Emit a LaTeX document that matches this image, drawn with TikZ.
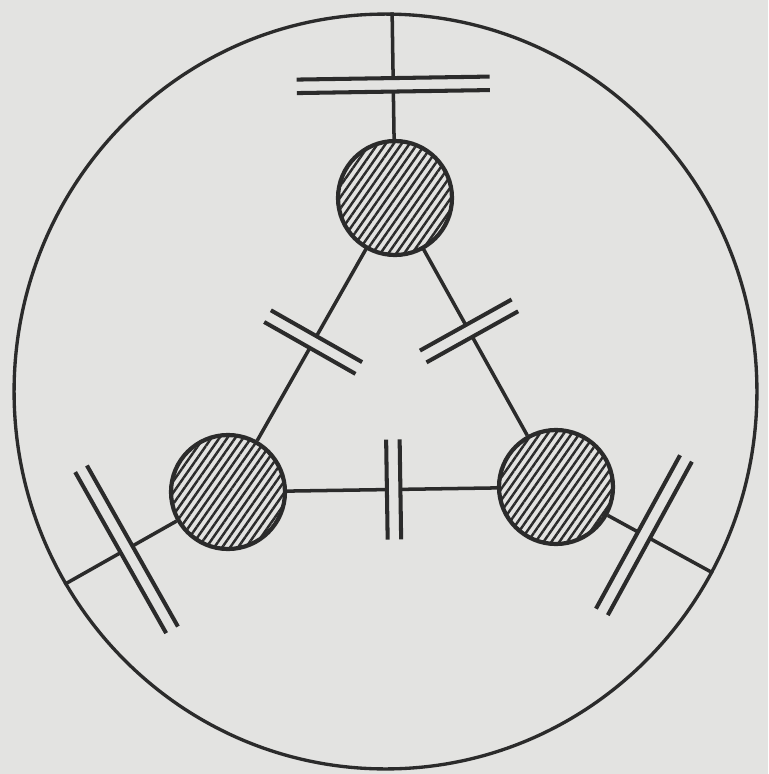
\documentclass[tikz,border=0pt]{standalone}
\usetikzlibrary{calc,shapes.geometric,patterns.meta}
\definecolor{bgcol}{HTML}{E3E3E1}
\definecolor{ink}{HTML}{2B2B2B}
\tikzset{
  wire/.style={draw=ink, line width=2.0pt},
  plate/.style={draw=ink, line width=2.3pt},
  ball/.style={circle, draw=ink, line width=2.4pt, minimum size=2.28cm, inner sep=0pt,
    pattern={Lines[angle=55, distance=3.7pt, line width=1.4pt]}, pattern color=ink},
  ringstyle/.style={ellipse, draw=ink, line width=1.9pt, inner sep=0pt,
    minimum width=14.86cm, minimum height=15.1cm},
}
\newcommand\drawcap[4]{%
  \coordinate (capc) at ($(#1)!#3!(#2)$);
  \coordinate (cpa) at ($(capc)!0.135cm!(#1)$);
  \coordinate (cpb) at ($(capc)!0.135cm!(#2)$);
  \draw[wire] (#1) -- (cpa);
  \draw[wire] (cpb) -- (#2);
  \draw[plate] ($(cpa)!#4!90:(#1)$) -- ($(cpa)!#4!-90:(#1)$);
  \draw[plate] ($(cpb)!#4!90:(#2)$) -- ($(cpb)!#4!-90:(#2)$);
}
\begin{document}
\begin{tikzpicture}[x=0.02cm,y=-0.02cm]
  \fill[bgcol] (0,0) rectangle (768,774);
  \useasboundingbox (0,0) rectangle (768,774);
  \node[ringstyle] (ring) at (385.5,391.5) {};
  \node[ball] (T) at (395,198) {};
  \node[ball] (L) at (228,492) {};
  \node[ball] (R) at (556,487) {};
  % inner capacitors
  \drawcap{L}{T}{0.51}{1.05cm}
  \drawcap{T}{R}{0.46}{1.05cm}
  \drawcap{L}{R}{0.505}{1.0cm}
  % outer capacitors
  \drawcap{T}{ring.89}{0.61}{1.93cm}
  \drawcap{L}{ring.211}{0.62}{1.85cm}
  \drawcap{R}{ring.331.1}{0.56}{1.75cm}
\end{tikzpicture}
\end{document}
